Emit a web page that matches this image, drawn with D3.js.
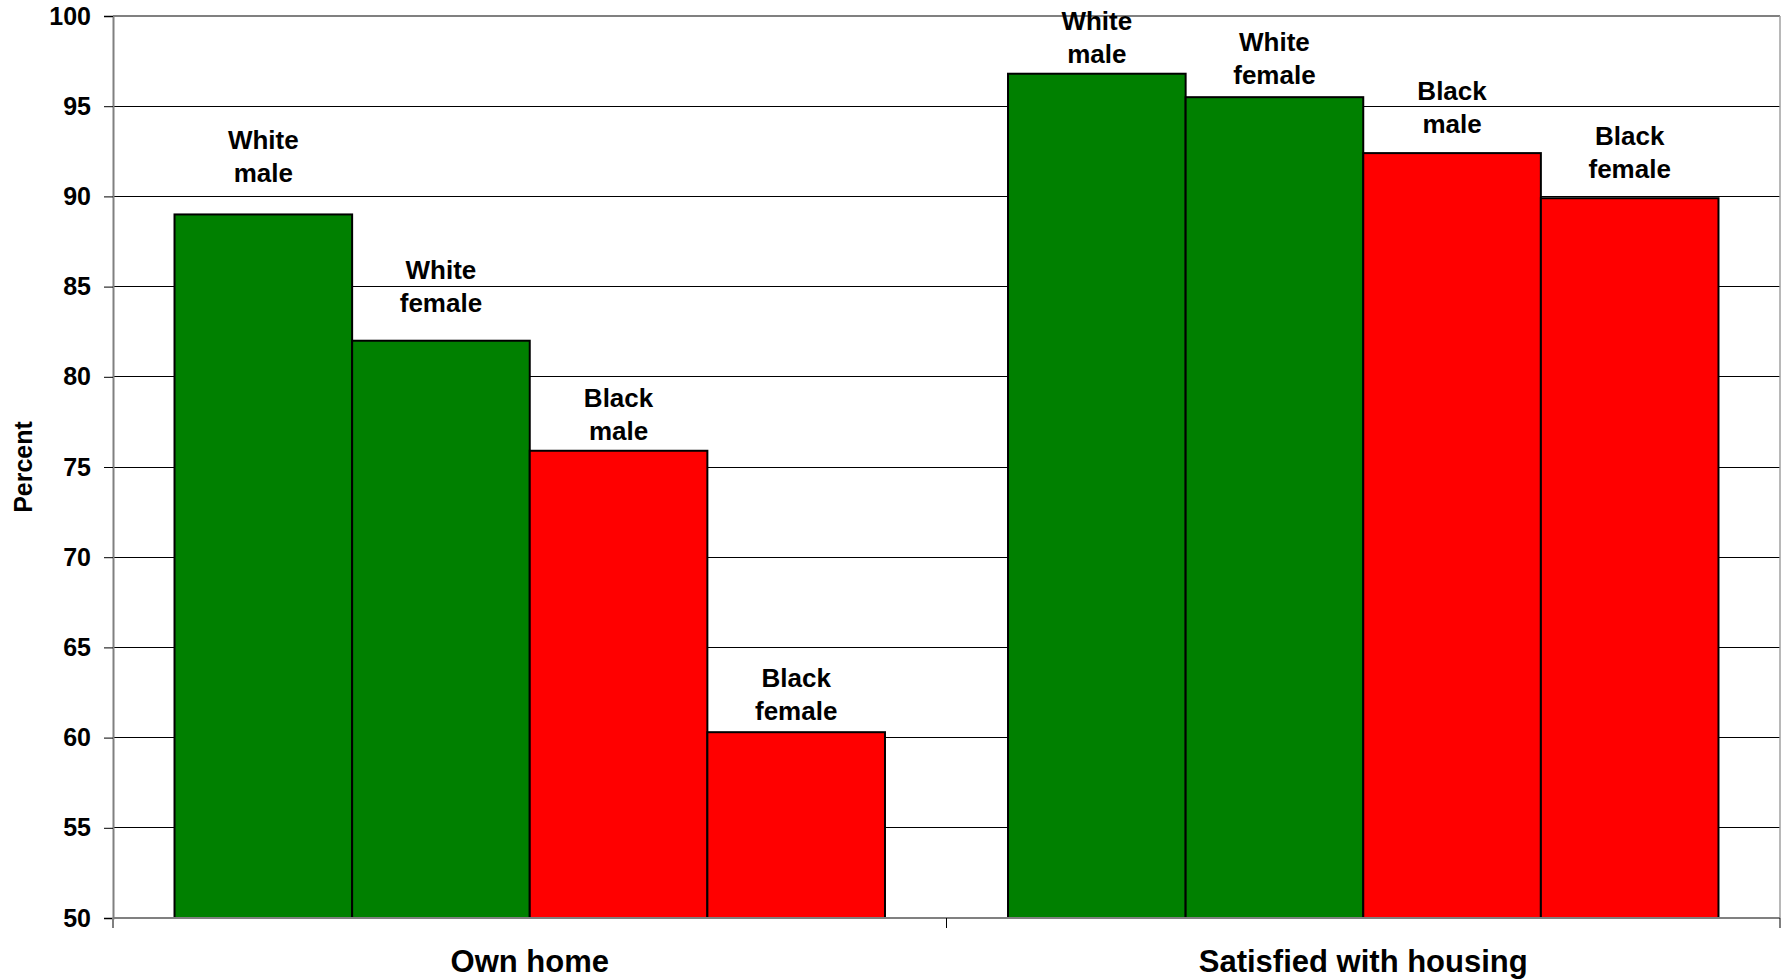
<!DOCTYPE html>
<html>
<head>
<meta charset="utf-8">
<script src="https://cdn.jsdelivr.net/npm/d3@7/dist/d3.min.js"></script>
<style>
  html, body { margin: 0; padding: 0; background: #fff; }
  svg text { font-family: "Liberation Sans", Arial, sans-serif; font-weight: bold; fill: #000; }
</style>
</head>
<body>
<svg id="chart" width="1781" height="980"></svg>
<script>
// ---- data ----
const categories = ["Own home", "Satisfied with housing"];
const seriesNames = ["White male", "White female", "Black male", "Black female"];
const seriesLabels = [["White", "male"], ["White", "female"], ["Black", "male"], ["Black", "female"]];
const ownHome = [89.0, 82.0, 75.9, 60.3];
const satisfied = [96.8, 95.5, 92.4, 89.9];
const yTicks = [50, 55, 60, 65, 70, 75, 80, 85, 90, 95, 100];
const yLabel = "Percent";

// ---- layout (not data) ----
const seriesColors = ["#008000", "#008000", "#FF0000", "#FF0000"];
const labelLift = [[32, 29, 11, 12], [11, 13, 20, 20]];

const values = [ownHome, satisfied];
const W = 1781, H = 980;
const m = { left: 113, right: 1, top: 16, bottom: 62 };
const svg = d3.select("#chart");

const x0 = d3.scaleBand().domain(categories).range([m.left, W - m.right]).padding(0);
const bw = x0.bandwidth();
const gap = bw * 0.0738;
const x1 = d3.scaleBand().domain(seriesNames).range([gap, bw - gap]).padding(0);
const y = d3.scaleLinear().domain([50, 100]).range([H - m.bottom, m.top]);

// gridlines
svg.append("g").selectAll("line").data(yTicks.filter(t => t > 50 && t < 100)).join("line")
  .attr("x1", m.left).attr("x2", W - m.right)
  .attr("y1", d => y(d)).attr("y2", d => y(d))
  .attr("stroke", "#000").attr("stroke-width", 1).attr("shape-rendering", "crispEdges");

// frame top & right
svg.append("line").attr("x1", m.left).attr("x2", W - m.right).attr("y1", y(100)).attr("y2", y(100))
  .attr("stroke", "#808080").attr("stroke-width", 2);
svg.append("line").attr("x1", W - m.right).attr("x2", W - m.right).attr("y1", y(100)).attr("y2", y(50))
  .attr("stroke", "#a0a0a0").attr("stroke-width", 1.5);

// bars
const groups = svg.append("g").selectAll("g").data(categories).join("g")
  .attr("transform", d => `translate(${x0(d)},0)`);

groups.each(function(cat, ci) {
  const g = d3.select(this);
  const vals = values[ci];
  g.selectAll("rect").data(seriesNames).join("rect")
    .attr("x", s => x1(s))
    .attr("y", (s, i) => y(vals[i]))
    .attr("width", x1.bandwidth())
    .attr("height", (s, i) => y(50) - y(vals[i]))
    .attr("fill", (s, i) => seriesColors[i])
    .attr("stroke", "#000").attr("stroke-width", 2);

  const lbl = g.selectAll("text.lbl").data(seriesNames).join("text")
    .attr("class", "lbl")
    .attr("text-anchor", "middle")
    .attr("font-size", 26);
  lbl.each(function(s, i) {
    const t = d3.select(this);
    const cx = x1(s) + x1.bandwidth() / 2;
    const base = y(vals[i]) - labelLift[ci][i];
    t.append("tspan").attr("x", cx).attr("y", base - 33).text(seriesLabels[i][0]);
    t.append("tspan").attr("x", cx).attr("y", base).text(seriesLabels[i][1]);
  });
});

// y axis
const yAxis = d3.axisLeft(y).tickValues(yTicks).tickSize(9).tickPadding(13).tickFormat(d3.format("d"));
const ya = svg.append("g").attr("transform", `translate(${m.left},0)`).call(yAxis);
ya.select(".domain").attr("stroke", "#808080").attr("stroke-width", 2);
ya.selectAll(".tick line").attr("stroke", "#000");
ya.selectAll(".tick text").attr("font-size", 25).attr("font-family", "Liberation Sans, Arial, sans-serif")
  .attr("font-weight", "bold").attr("fill", "#000");

// x axis
const boundaries = [m.left, ...categories.slice(1).map(c => x0(c)), W - m.right];
svg.append("line").attr("x1", m.left).attr("x2", W - m.right).attr("y1", y(50)).attr("y2", y(50))
  .attr("stroke", "#808080").attr("stroke-width", 2);
svg.append("g").selectAll("line").data(boundaries).join("line")
  .attr("x1", d => d).attr("x2", d => d).attr("y1", y(50)).attr("y2", y(50) + 10)
  .attr("stroke", (d, i) => i === 0 ? "#808080" : "#000").attr("stroke-width", (d, i) => i === 0 ? 2 : 1);
svg.append("g").selectAll("text").data(categories).join("text")
  .attr("x", d => x0(d) + bw / 2)
  .attr("y", 972)
  .attr("text-anchor", "middle")
  .attr("font-size", 31)
  .text(d => d);

// y label
svg.append("text")
  .attr("transform", `translate(32,${(y(50) + y(100)) / 2}) rotate(-90)`)
  .attr("text-anchor", "middle")
  .attr("font-size", 25)
  .text(yLabel);
</script>
</body>
</html>
